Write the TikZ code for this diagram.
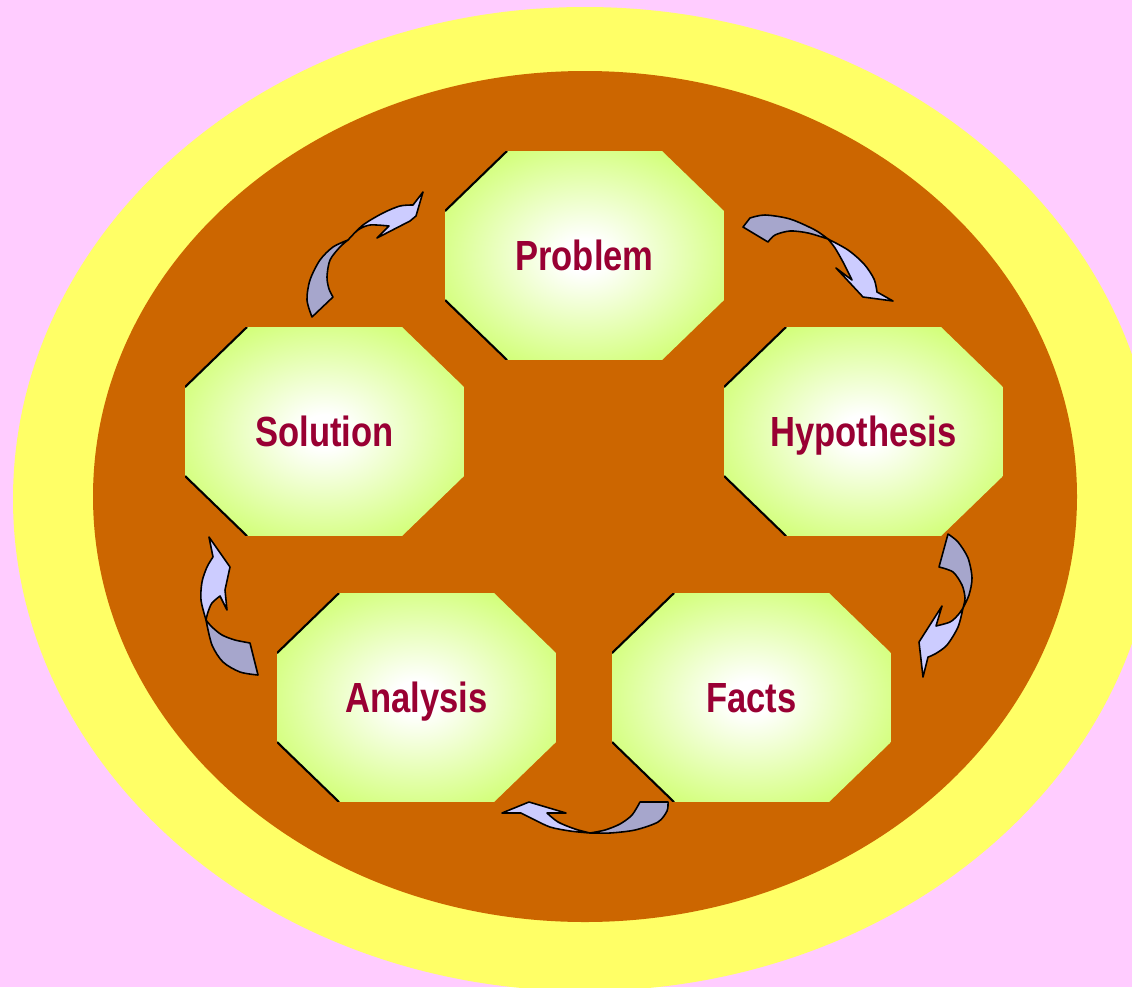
\documentclass[tikz,border=0pt]{standalone}
\usepackage{fontspec}
\newfontfamily\stagefont[FakeStretch=0.82]{Liberation Sans}
\usetikzlibrary{calc}
\definecolor{bgpink}{RGB}{255,204,255}
\definecolor{ringyellow}{RGB}{255,255,102}
\definecolor{corebrown}{RGB}{204,102,0}
\definecolor{stagelime}{RGB}{204,255,102}
\definecolor{stagetext}{RGB}{153,0,51}
\definecolor{arrowback}{RGB}{166,166,204}
\definecolor{arrowfront}{RGB}{204,204,255}
\pgfdeclareradialshading{stageshade}{\pgfpoint{0bp}{0bp}}{color(0bp)=(white); color(4bp)=(white); color(32bp)=(stagelime); color(50bp)=(stagelime)}

\begin{document}
\begin{tikzpicture}[
        x=0.02cm, y=-0.02cm,
        stage/.style={rectangle, inner sep=0pt, minimum width=5.58cm, minimum height=4.18cm,
            text height=0.6cm, text depth=0pt, text=stagetext,
            font=\stagefont\bfseries\fontsize{24}{28}\selectfont,
            path picture={
                \coordinate (oct) at (path picture bounding box.north west);
                \shade[shading=stageshade] (oct) ++(62,0) -- ++(155,0) -- ++(62,60) -- ++(0,89)
                    -- ++(-62,60) -- ++(-155,0) -- ++(-62,-60) -- ++(0,-89) -- cycle;
                \draw[line width=1.2pt] (oct) ++(0,60) -- ++(62,-60);
                \draw[line width=1.2pt] (oct) ++(0,149) -- ++(62,60);
            }},
        backface/.style={fill=arrowback, draw=black, line width=0.9pt, line join=round},
        frontface/.style={fill=arrowfront, draw=black, line width=0.9pt, line join=round}
    ]
        \useasboundingbox (0,0) rectangle (1132,987);
        \clip (0,0) rectangle (1132,987);

        % Background and rings
        \fill[bgpink] (0,0) rectangle (1132,987);
        \fill[ringyellow] (585,499) ellipse [x radius=572, y radius=492];
        \fill[corebrown] (585,496.5) ellipse [x radius=492, y radius=425.5];

        % Stages
        \node[stage] (problem) at (584.5,255.5) {Problem};
        \node[stage] (hypothesis) at (863.5,431.5) {Hypothesis};
        \node[stage] (facts) at (751.5,697.5) {Facts};
        \node[stage] (analysis) at (416.5,697.5) {Analysis};
        \node[stage] (solution) at (324.5,431.5) {Solution};

        % Problem -> Hypothesis
        \filldraw[backface] (743,227) -- (768,242)
            -- plot[smooth] coordinates {(768,242) (775,235) (790,231) (808,233) (828,239)}
            -- plot[smooth] coordinates {(828,239) (815,230) (790,219) (765,215) (750,218)} -- cycle;
        \filldraw[frontface] (828,239)
            -- plot[smooth] coordinates {(828,239) (848,250) (864,264) (874,279) (877,292)}
            -- (893,301) -- (863,297) -- (836,268) -- (852,280)
            -- plot[smooth] coordinates {(852,280) (843,262) (835,248) (828,239)} -- cycle;

        % Hypothesis -> Facts
        \filldraw[backface] (948,534) -- (939,567)
            -- plot[smooth] coordinates {(939,567) (953,572) (962,585) (965,598) (963,608)}
            -- plot[smooth] coordinates {(963,608) (969,595) (972,578) (968,558) (958,542) (948,534)} -- cycle;
        \filldraw[frontface] (963,608)
            -- plot[smooth] coordinates {(963,608) (958,627) (947,645) (935,654) (928,657)}
            -- (923,677) -- (919,642) -- (942,606) -- (936,626)
            -- plot[smooth] coordinates {(936,626) (950,622) (958,615) (963,608)} -- cycle;

        % Facts -> Analysis
        \filldraw[backface] (640,802) -- (668,802)
            -- plot[smooth] coordinates {(668,802) (667,811) (658,822) (635,830) (610,833) (590,833)}
            -- plot[smooth] coordinates {(590,833) (605,830) (620,824) (632,815) (640,802)} -- cycle;
        \filldraw[frontface] (590,833)
            -- plot[smooth] coordinates {(590,833) (570,831) (550,827) (533,819) (521,813)}
            -- (502,813) -- (529,802) -- (566,813) -- (547,813)
            -- plot[smooth] coordinates {(547,813) (558,822) (575,829) (590,833)} -- cycle;

        % Analysis -> Solution
        \filldraw[backface] (250,643) -- (258,675)
            -- plot[smooth] coordinates {(258,675) (240,672) (223,662) (212,645) (206,620)}
            -- plot[smooth] coordinates {(206,620) (212,627) (222,635) (235,640) (250,643)} -- cycle;
        \filldraw[frontface] (206,620)
            -- plot[smooth] coordinates {(206,620) (201,600) (202,582) (207,567) (213,557)}
            -- (209,537) -- (230,567) -- (225,590) -- (227,610) -- (220,596)
            -- plot[smooth] coordinates {(220,596) (212,603) (208,612) (206,620)} -- cycle;

        % Solution -> Problem
        \filldraw[backface] (312,317) -- (333,297)
            -- plot[smooth] coordinates {(333,297) (329,289) (327,277) (330,260) (340,247) (348,240)}
            -- plot[smooth] coordinates {(348,240) (333,247) (320,260) (310,280) (307,300) (312,317)} -- cycle;
        \filldraw[frontface] (348,240)
            -- plot[smooth] coordinates {(348,240) (363,225) (383,213) (400,206) (413,205)}
            -- (423,192) -- (416,216) -- (410,221) -- (377,238) -- (389,226)
            -- plot[smooth] coordinates {(389,226) (370,225) (358,230) (348,240)} -- cycle;

    \end{tikzpicture}
\end{document}
